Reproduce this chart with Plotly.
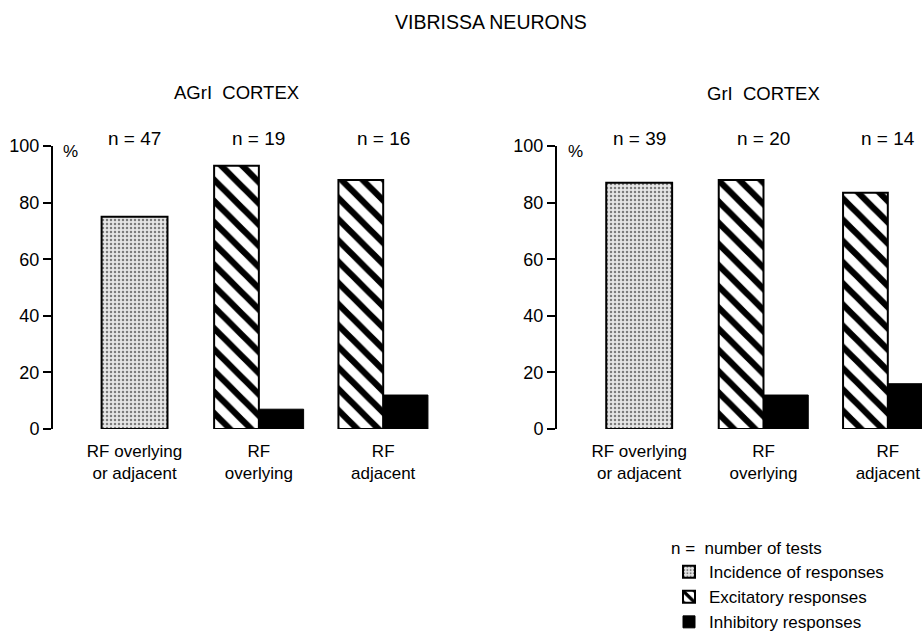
import plotly.graph_objects as go

# ---- data ----
categories = ["RF overlying<br>or adjacent", "RF<br>overlying", "RF<br>adjacent"]
agri_incidence = [75]
agri_excitatory = [93, 88]
agri_inhibitory = [7, 12]
agri_n = [47, 19, 16]

grl_incidence = [87]
grl_excitatory = [88, 83.5]
grl_inhibitory = [12, 16]
grl_n = [39, 20, 14]

y_ticks = [0, 20, 40, 60, 80, 100]

FONT = "Liberation Sans, Arial, Helvetica, sans-serif"
W, H = 922, 643

stipple = dict(color="#dcdcdc", line=dict(color="black", width=2),
               pattern=dict(shape=".", fgcolor="#7c7c7c", bgcolor="#e6e6e6",
                            size=4, solidity=0.3, fillmode="replace"))
hatch = dict(color="white", line=dict(color="black", width=2),
             pattern=dict(shape="\\", fgcolor="black", bgcolor="white",
                          size=15, solidity=0.42, fillmode="replace"))
solid = dict(color="black", line=dict(color="black", width=1))

fig = go.Figure()

def add_panel(xa, ya, inc, exc, inh, show):
    fig.add_trace(go.Bar(x=categories[:1], y=inc, name="Incidence of responses",
                         marker=stipple, width=0.53, offset=-0.265,
                         xaxis=xa, yaxis=ya, showlegend=show))
    fig.add_trace(go.Bar(x=categories[1:], y=exc, name="Excitatory responses",
                         marker=hatch, width=0.36, offset=-0.36,
                         xaxis=xa, yaxis=ya, showlegend=show))
    fig.add_trace(go.Bar(x=categories[1:], y=inh, name="Inhibitory responses",
                         marker=solid, width=0.36, offset=0.0,
                         xaxis=xa, yaxis=ya, showlegend=show))

add_panel("x", "y", agri_incidence, agri_excitatory, agri_inhibitory, True)
add_panel("x2", "y2", grl_incidence, grl_excitatory, grl_inhibitory, False)

ydom = [1 - 429 / H, 1 - 146 / H]

xcommon = dict(type="category", categoryorder="array", categoryarray=categories,
               showline=False, showgrid=False, zeroline=False, ticks="",
               automargin=False,
               tickfont=dict(family=FONT, size=17, color="black"),
               ticklabelstandoff=10)
ycommon = dict(range=[0, 100], tickvals=y_ticks, showline=True, linecolor="black",
               linewidth=2, ticks="outside", ticklen=8, tickwidth=2, tickcolor="black",
               showgrid=False, zeroline=False, automargin=False,
               tickfont=dict(family=FONT, size=18, color="black"))

fig.update_layout(
    width=W, height=H,
    margin=dict(l=0, r=0, t=0, b=0, pad=0, autoexpand=False),
    paper_bgcolor="white", plot_bgcolor="white",
    barmode="overlay",
    font=dict(family=FONT, color="black"),
    xaxis=dict(domain=[53 / W, 440 / W], range=[-0.656, 2.457], anchor="y", **xcommon),
    yaxis=dict(domain=ydom, anchor="x", **ycommon),
    xaxis2=dict(domain=[557 / W, 1.0], range=[-0.661, 2.275], anchor="y2", **xcommon),
    yaxis2=dict(domain=ydom, anchor="x2", **ycommon),
    legend=dict(x=669 / W, y=1 - 532 / H, xanchor="left", yanchor="top",
                font=dict(family=FONT, size=17, color="black"),
                title=dict(text="n =\u00a0 number of tests",
                           font=dict(family=FONT, size=17, color="black")),
                bgcolor="rgba(0,0,0,0)", traceorder="normal", itemwidth=30),
    showlegend=True,
)

def txt(text, x, y, size, xref="paper"):
    return dict(text=text, x=x, y=y, xref=xref, yref="paper", xanchor="center",
                yanchor="middle", showarrow=False, font=dict(family=FONT, size=size))

ann = [
    txt("VIBRISSA NEURONS", 491 / W, 1 - 22 / H, 19.5),
    txt("AGrI\u00a0 CORTEX", 236 / W, 1 - 92 / H, 18.5),
    txt("GrI\u00a0 CORTEX", 763 / W, 1 - 93 / H, 18.5),
    txt("%", 70 / W, 1 - 152 / H, 17),
    txt("%", 575 / W, 1 - 152 / H, 17),
]
for xa, ns in (("x", agri_n), ("x2", grl_n)):
    for c, n in zip(categories, ns):
        ann.append(txt(f"n = {n}", c, 1 - 139 / H, 19, xref=xa))
fig.update_layout(annotations=ann)

fig.write_html("out.html")
